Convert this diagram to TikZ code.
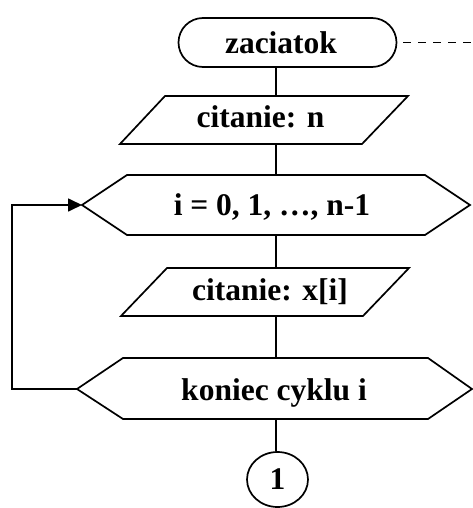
\documentclass[tikz,border=0pt]{standalone}
\usepackage{fontspec}
\setmainfont{Liberation Serif}
\usetikzlibrary{shapes.misc,shapes.geometric,arrows.meta}
\begin{document}
\begin{tikzpicture}[x=1pt,y=-1pt,
  lbl/.style={font=\fontsize{31.5}{36}\selectfont\bfseries, inner sep=0pt, anchor=base},
  outline/.style={draw=black, line width=1.7pt, line join=miter},
  conn/.style={draw=black, line width=1.7pt},
  tip/.style={-{Triangle[length=14pt,width=13pt]}},
]
\useasboundingbox (0,0) rectangle (473,508);
% terminal
\node[rounded rectangle, outline, minimum width=218pt, minimum height=49pt, inner sep=0pt] (start) at (287.5,42.5) {};
\node[lbl] (startt) at (281,53.5) {zaciatok};
\coordinate (dashend) at (473,42.5);
% input n
\draw[outline] (165,96) -- (408,96) -- (362,144) -- (120,144) -- cycle;
\node[lbl] (in1) at (260.5,127) {citanie: n};
\coordinate (p1t) at (276,96);
\coordinate (p1b) at (276,144);
% loop start
\draw[outline] (82,205) -- (127,175) -- (425,175) -- (470,205) -- (425,235) -- (127,235) -- cycle;
\node[lbl] (loop1) at (272,215) {i = 0, 1, …, n-1};
\coordinate (h1t) at (276,175);
\coordinate (h1b) at (276,235);
\coordinate (h1l) at (82,205);
% input x[i]
\draw[outline] (167,268) -- (409,268) -- (363,316) -- (121,316) -- cycle;
\node[lbl] (in2) at (270,300) {citanie: x[i]};
\coordinate (p2t) at (276,268);
\coordinate (p2b) at (276,316);
% loop end
\draw[outline] (77,389) -- (123,358) -- (428,358) -- (472,389) -- (428,419) -- (123,419) -- cycle;
\node[lbl] (loop2) at (274,400.5) {koniec cyklu i};
\coordinate (h2t) at (276,358);
\coordinate (h2b) at (276,419);
\coordinate (h2l) at (77,389);
% connector
\node[ellipse, outline, minimum width=61pt, minimum height=55pt, inner sep=0pt,
      font=\fontsize{31.5}{36}\selectfont\bfseries] (c1) at (277.5,479.5) {1};
% loop return corners
\coordinate (lb) at (12,389);
\coordinate (lt) at (12,205);
% connectors
\draw[conn] (start.south -| p1t) -- (p1t);
\draw[conn] (p1b) -- (h1t);
\draw[conn] (h1b) -- (p2t);
\draw[conn] (p2b) -- (h2t);
\draw[conn] (h2b) -- (c1.north -| h2b);
\draw[conn, tip] (h2l) -- (lb) -- (lt) -- (h1l);
\draw[conn, dash pattern=on 8pt off 7pt, shorten <=6pt] (start.east) -- (dashend);
\end{tikzpicture}
\end{document}
